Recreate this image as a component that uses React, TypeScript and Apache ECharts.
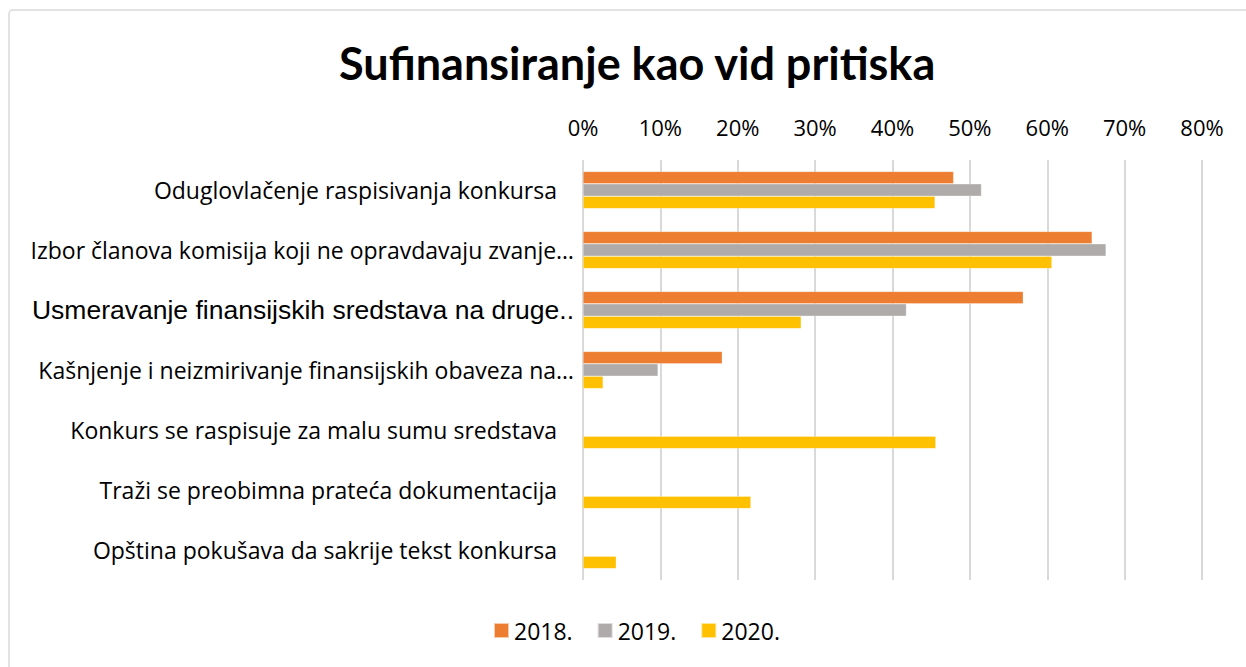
import React, { useEffect, useRef } from "react";
import * as echarts from "echarts";

const categories = [
  "Odugl​ovlačenje raspisivanja konkursa".replace("\u200b", ""),
  "Izbor članova komisija koji ne opravdavaju zvanje…",
  "Usmeravanje finansijskih sredstava na druge..",
  "Kašnjenje i neizmirivanje finansijskih obaveza na…",
  "Konkurs se raspisuje za malu sumu sredstava",
  "Traži se preobimna prateća dokumentacija",
  "Opština pokušava da sakrije tekst konkursa",
];
const paddedLabels = [0, 4, 5, 6];
const arialLabels = [2];

const seriesNames = ["2018.", "2019.", "2020."];
const values2018 = [47.9, 65.8, 56.9, 18.0, null, null, null];
const values2019 = [51.5, 67.6, 41.8, 9.7, null, null, null];
const values2020 = [45.5, 60.6, 28.2, 2.6, 45.6, 21.7, 4.3];
const colors = ["#ED7D31", "#AFABAB", "#FFC000"];
const xTicks = { min: 0, max: 80, interval: 10 };

export default function App() {
  const ref = useRef<HTMLDivElement>(null);
  useEffect(() => {
    if (!ref.current) return;
    const chart = echarts.init(ref.current, null, { renderer: "svg" });
    const data = [values2018, values2019, values2020];
    chart.setOption({
      animation: false,
      backgroundColor: "#ffffff",
      title: {
        text: "Sufinansiranje kao vid pritiska",
        left: 334,
        top: 35,
        textStyle: { fontFamily: "Lato", fontWeight: "bold", fontSize: 45, color: "#000" },
      },
      graphic: [
        {
          type: "rect",
          shape: { x: 9, y: 10, width: 1250, height: 670, r: 4 },
          style: { fill: "none", stroke: "#d9d9d9", lineWidth: 1.5 },
          silent: true,
        },
      ],
      legend: {
        bottom: 20,
        left: 488,
        itemWidth: 15,
        itemHeight: 15,
        itemGap: 24,
        icon: "rect",
        textStyle: { fontFamily: "Open Sans", fontSize: 23, color: "#000" },
        data: seriesNames,
      },
      grid: { left: 583, right: 44, top: 160, bottom: 87, containLabel: false },
      xAxis: {
        type: "value",
        position: "top",
        min: xTicks.min,
        max: xTicks.max,
        interval: xTicks.interval,
        axisLine: { show: false },
        axisTick: { show: false },
        axisLabel: { formatter: "{value}%", fontFamily: "Open Sans", fontSize: 22, color: "#000", margin: 22 },
        splitLine: { show: true, lineStyle: { color: "#d9d9d9", width: 2 } },
      },
      yAxis: {
        type: "category",
        inverse: true,
        data: categories,
        axisLine: { show: false },
        axisTick: { show: false },
        axisLabel: {
          margin: 9,
          formatter: (v: string, i: number) => {
            if (arialLabels.includes(i)) return `{b|${v}}`;
            if (paddedLabels.includes(i)) return `{c|${v}}`;
            return `{a|${v}}`;
          },
          rich: {
            a: { fontFamily: "Open Sans", fontSize: 23, color: "#000" },
            c: { fontFamily: "Open Sans", fontSize: 23, color: "#000", padding: [0, 17, 0, 0] },
            b: { fontFamily: "Liberation Sans", fontSize: 26.5, color: "#000" },
          },
        },
      },
      series: seriesNames.map((name, k) => ({
        name,
        type: "bar",
        data: data[k],
        barWidth: 12.4,
        barGap: "0%",
        itemStyle: { color: colors[k], borderColor: "rgba(255,255,255,0.6)", borderWidth: 0.5 },
      })),
    });
    return () => chart.dispose();
  }, []);
  return (
    <div
      ref={ref}
      style={{ position: "fixed", left: 0, top: 0, width: 1246, height: 667 }}
    />
  );
}
